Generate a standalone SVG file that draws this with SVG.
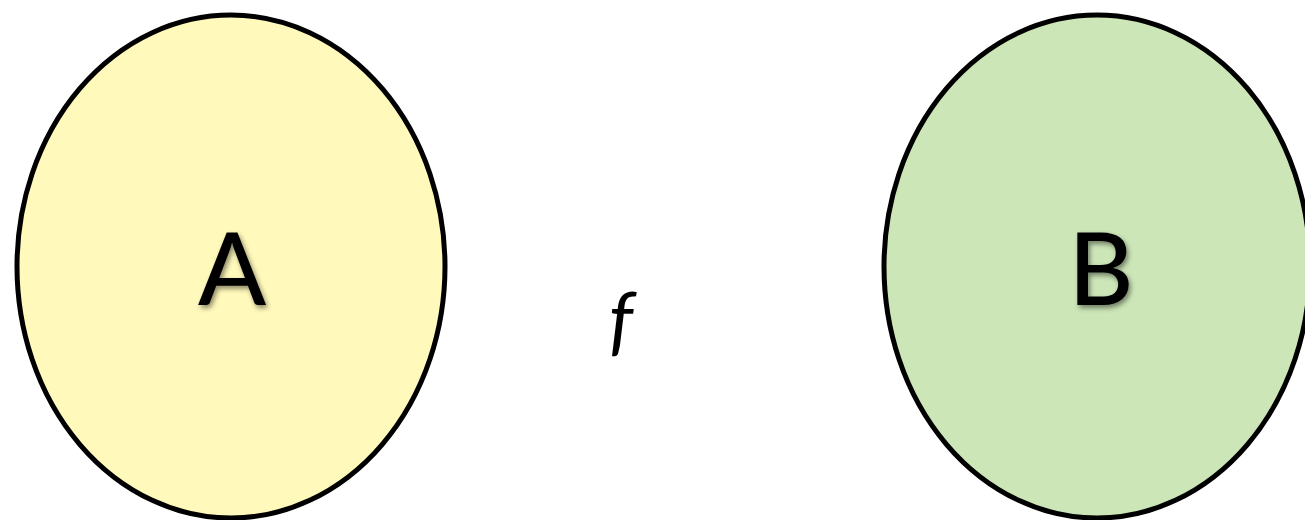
<svg xmlns="http://www.w3.org/2000/svg" width="1305" height="520" viewBox="0 0 1305 520">
<style>
.set{stroke:#000;stroke-width:5}
.lbl{font-family:Lato,"Liberation Sans",sans-serif;font-size:100px;font-weight:500;fill:#000;text-anchor:middle}
.fn{font-family:Lato,"Liberation Sans",sans-serif;font-style:italic;font-size:76px;fill:#000;text-anchor:middle}
</style>
<defs>
<filter id="sh" x="-30%" y="-30%" width="160%" height="160%">
<feDropShadow dx="2" dy="3" stdDeviation="2.5" flood-color="#000" flood-opacity="0.45"/>
</filter>
</defs>
<rect width="1305" height="520" fill="#fff"/>
<g id="A">
<ellipse class="set" cx="231" cy="266.5" rx="214" ry="251.5" fill="#FFF9BB"/>
<text class="lbl" x="232" y="305" filter="url(#sh)">A</text>
</g>
<g id="B">
<ellipse class="set" cx="1097" cy="266.5" rx="213" ry="251.5" fill="#CCE6B8"/>
<text class="lbl" x="1101" y="305" filter="url(#sh)">B</text>
</g>
<g id="connectors">
<text class="fn" x="621" y="346">f</text>
</g>
</svg>
